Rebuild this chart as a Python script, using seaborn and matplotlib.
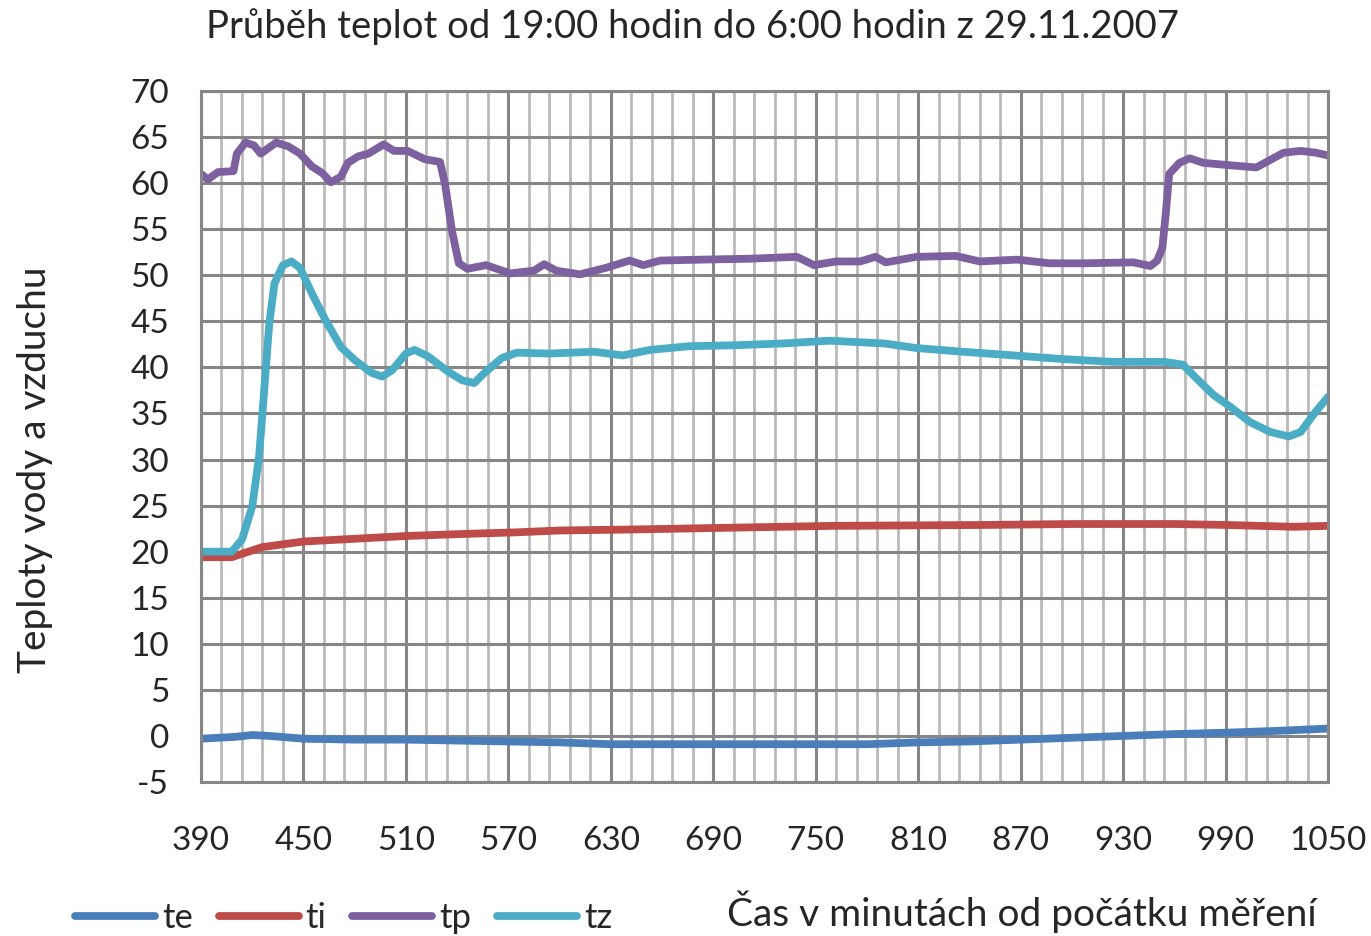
import pandas as pd
import matplotlib
matplotlib.use("Agg")
import matplotlib.pyplot as plt
import seaborn as sns

# Values (minutes from start, deg C)
te_t = [390, 400, 410, 420, 430, 450, 480, 510, 540, 570, 600, 630, 660, 690, 720, 750,
        780, 810, 840, 870, 900, 930, 960, 990, 1020, 1050]
te_v = [-0.3, -0.2, -0.1, 0.1, 0.0, -0.3, -0.4, -0.4, -0.5, -0.6, -0.7, -0.9, -0.9, -0.9,
        -0.9, -0.9, -0.9, -0.7, -0.6, -0.4, -0.2, 0.0, 0.2, 0.35, 0.55, 0.8]

ti_t = [390, 408, 426, 450, 480, 510, 540, 575, 600, 640, 700, 760, 850, 900, 960, 990,
        1010, 1030, 1050]
ti_v = [19.4, 19.4, 20.5, 21.1, 21.4, 21.7, 21.9, 22.1, 22.3, 22.4, 22.6, 22.8, 22.9, 23.0,
        23.0, 22.9, 22.8, 22.7, 22.8]

tp_t = [390, 394, 400, 409, 411, 416, 421, 425, 434, 441, 448, 455, 461, 466, 472, 476,
        482, 488, 497, 503, 511, 521, 530, 533, 537, 541, 546, 557, 571, 585, 591, 598,
        612, 627, 641, 649, 659, 684, 712, 739, 749, 762, 776, 785, 791, 809, 832, 846,
        868, 887, 907, 936, 946, 950, 953, 955, 957, 963, 969, 977, 989, 1008, 1014, 1024,
        1034, 1043, 1050]
tp_v = [61.0, 60.4, 61.2, 61.3, 63.2, 64.4, 64.1, 63.2, 64.4, 64.0, 63.2, 61.8, 61.1, 60.1,
        60.7, 62.2, 62.9, 63.2, 64.2, 63.5, 63.5, 62.6, 62.3, 59.8, 54.8, 51.3, 50.7, 51.1,
        50.2, 50.5, 51.2, 50.5, 50.1, 50.8, 51.6, 51.1, 51.6, 51.7, 51.8, 52.0, 51.1, 51.5,
        51.5, 52.0, 51.4, 52.0, 52.1, 51.5, 51.7, 51.3, 51.3, 51.4, 51.0, 51.6, 53.0, 56.7,
        61.0, 62.2, 62.7, 62.2, 62.0, 61.7, 62.3, 63.3, 63.5, 63.3, 63.0]

tz_t = [390, 408, 414, 420, 424, 427, 430, 433, 438, 443, 448, 455, 463, 472, 480, 490,
        496, 502, 510, 515, 523, 535, 543, 550, 556, 566, 575, 594, 620, 637, 653, 676,
        702, 731, 758, 790, 809, 836, 866, 895, 924, 954, 965, 973, 983, 993, 1004, 1016,
        1027, 1034, 1042, 1050]
tz_v = [20.0, 20.0, 21.3, 24.9, 30.3, 37.5, 44.8, 49.1, 51.1, 51.5, 50.8, 48.0, 45.1, 42.2,
        40.8, 39.4, 39.0, 39.7, 41.5, 41.9, 41.2, 39.5, 38.6, 38.3, 39.4, 41.0, 41.6, 41.5,
        41.7, 41.3, 41.9, 42.3, 42.4, 42.6, 42.9, 42.6, 42.1, 41.7, 41.3, 40.9, 40.6, 40.6,
        40.3, 38.8, 37.0, 35.7, 34.1, 33.0, 32.5, 33.0, 35.0, 36.8]

series = ["te", "ti", "tp", "tz"]
colors = {"te": "#4A7EBB", "ti": "#BE4B48", "tp": "#7D60A0", "tz": "#4BACC6"}

x_major = list(range(390, 1051, 60))
x_minor = list(range(390, 1051, 12))
y_major = list(range(-5, 71, 5))

# Build one long table for seaborn
frames = []
for name, t, v in [("te", te_t, te_v), ("ti", ti_t, ti_v), ("tp", tp_t, tp_v), ("tz", tz_t, tz_v)]:
    frames.append(pd.DataFrame({"cas": t, "teplota": v, "serie": name}))
data = pd.concat(frames, ignore_index=True)

sns.set_style("white")
plt.rcParams["font.family"] = ["Lato", "DejaVu Sans"]

grid_dark = "#868686"
grid_light = "#BABABA"

fig = plt.figure(figsize=(13.71, 9.36), dpi=100)
ax = fig.add_axes([201 / 1371, 1 - 782 / 936, 1127 / 1371, 691 / 936])

sns.lineplot(data=data, x="cas", y="teplota", hue="serie", hue_order=series,
             palette=colors, linewidth=5.6, ax=ax, legend=False, sort=False,
             estimator=None, solid_capstyle="round", solid_joinstyle="round")

ax.set_xlim(390, 1050)
ax.set_ylim(-5, 70)
ax.set_xticks(x_major)
ax.set_xticks([m for m in x_minor if m not in x_major], minor=True)
ax.set_yticks(y_major)
ax.set_yticklabels([str(v) if v >= 0 else "-" + str(-v) for v in y_major])

ax.set_axisbelow(True)
ax.grid(which="minor", axis="x", color=grid_light, linewidth=2.0)
ax.grid(which="major", color=grid_dark, linewidth=2.2)
for sp in ax.spines.values():
    sp.set_visible(True)
    sp.set_color(grid_dark)
    sp.set_linewidth(2.2)

ax.tick_params(axis="x", which="major", direction="out", length=8, width=2.2,
               color=grid_dark, labelsize=24, pad=24)
ax.tick_params(axis="x", which="minor", length=0)
ax.tick_params(axis="y", direction="out", length=9, width=2.2, color=grid_dark,
               labelsize=24, pad=14)

ax.set_xlabel("Čas v minutách od počátku měření", fontsize=28)
ax.xaxis.set_label_coords(0.7285, -0.188)
ax.xaxis.label.set_verticalalignment("center")
ax.set_ylabel("Teploty vody a vzduchu", fontsize=28)
ax.yaxis.set_label_coords(-0.147, 0.4515)
ax.yaxis.label.set_verticalalignment("center")

fig.suptitle("Průběh teplot od 19:00 hodin do 6:00 hodin z 29.11.2007",
             x=692 / 1371, y=1 - 27 / 936, va="center", fontsize=27.5)

handles = [plt.Line2D([], [], color=colors[s], linewidth=5.6, solid_capstyle="round") for s in series]
fig.legend(handles, series, loc="center left", bbox_to_anchor=(75 / 1371, 1 - 918 / 936),
           ncol=4, frameon=False, fontsize=25, handlelength=2.3, handletextpad=0.2,
           columnspacing=0.75, borderaxespad=0, borderpad=0)

fig.savefig("out.png", dpi=100)
